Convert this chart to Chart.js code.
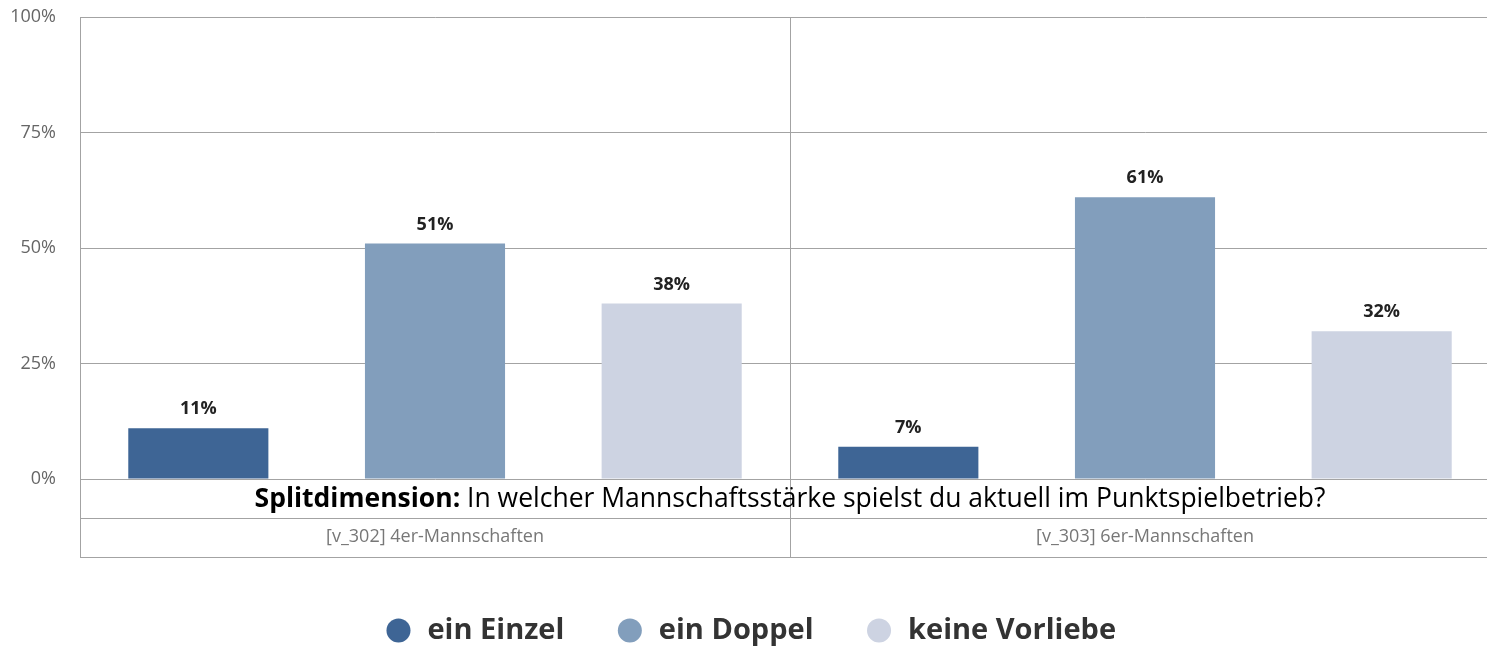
<!DOCTYPE html>
<html>
<head>
<meta charset="utf-8">
<title>Mannschaftsstärke</title>
<script src="https://cdn.jsdelivr.net/npm/chart.js@4.4.0/dist/chart.umd.min.js"></script>
<style>
  html, body { margin: 0; padding: 0; background: #fff; overflow: hidden; }
  #wrap { position: relative; width: 1500px; height: 647px; }
</style>
</head>
<body>
<div id="wrap"><canvas id="chart"></canvas></div>
<script>
// Data
const categories = ['[v_302] 4er-Mannschaften', '[v_303] 6er-Mannschaften'];
const seriesNames = ['ein Einzel', 'ein Doppel', 'keine Vorliebe'];
const einEinzel = [11, 7];
const einDoppel = [51, 61];
const keineVorliebe = [38, 32];
const yTicks = [0, 25, 50, 75, 100];
const splitLabel = 'Splitdimension:';
const splitQuestion = ' In welcher Mannschaftsstärke spielst du aktuell im Punktspielbetrieb?';

const COLORS = ['#3e6595', '#829ebc', '#cdd3e2'];
const GRID = '#a3a3a3';
const FONT = "'Open Sans', 'Noto Sans', sans-serif";

// value labels above each bar
const barLabels = {
  id: 'barLabels',
  afterDatasetsDraw(chart) {
    const ctx = chart.ctx;
    ctx.save();
    ctx.font = 'bold 18px ' + FONT;
    ctx.fillStyle = '#222';
    ctx.textAlign = 'center';
    ctx.textBaseline = 'middle';
    chart.data.datasets.forEach((ds, i) => {
      chart.getDatasetMeta(i).data.forEach((bar, j) => {
        ctx.fillText(ds.data[j] + '%', bar.x, bar.y - 19);
      });
    });
    ctx.restore();
  }
};

// table-like band under the plot: split dimension row + category row
const splitBand = {
  id: 'splitBand',
  afterDraw(chart) {
    const ctx = chart.ctx;
    const area = chart.chartArea;
    const rowH = 39;
    ctx.save();
    ctx.strokeStyle = GRID;
    ctx.lineWidth = 1;
    [1, 2].forEach(k => {
      const y = Math.round(area.bottom + rowH * k) + 0.5;
      ctx.beginPath();
      ctx.moveTo(area.left, y);
      ctx.lineTo(area.right, y);
      ctx.stroke();
    });

    const boldFont = 'bold 26.5px ' + FONT;
    const normFont = '26.5px ' + FONT;
    ctx.font = boldFont;
    const w1 = ctx.measureText(splitLabel).width;
    ctx.font = normFont;
    const w2 = ctx.measureText(splitQuestion).width;
    const cx = chart.scales.x.getPixelForValue(0.5);
    let x = cx - (w1 + w2) / 2;
    const y = area.bottom + rowH / 2 + 1;
    ctx.fillStyle = '#000';
    ctx.textAlign = 'left';
    ctx.textBaseline = 'middle';
    ctx.font = boldFont;
    ctx.fillText(splitLabel, x, y);
    ctx.font = normFont;
    ctx.fillText(splitQuestion, x + w1, y);
    ctx.restore();
  }
};

new Chart(document.getElementById('chart'), {
  type: 'bar',
  data: {
    labels: categories,
    datasets: [
      { label: seriesNames[0], data: einEinzel, backgroundColor: COLORS[0] },
      { label: seriesNames[1], data: einDoppel, backgroundColor: COLORS[1] },
      { label: seriesNames[2], data: keineVorliebe, backgroundColor: COLORS[2] },
    ],
  },
  options: {
    responsive: true,
    maintainAspectRatio: false,
    animation: false,
    layout: { padding: { top: 17, left: 0, right: 0, bottom: 0 } },
    datasets: {
      bar: { categoryPercentage: 1.0, barPercentage: 0.592 },
    },
    plugins: {
      tooltip: { enabled: false },
      legend: {
        position: 'bottom',
        maxHeight: 82,
        labels: {
          usePointStyle: true,
          pointStyle: 'circle',
          boxWidth: 34,
          boxHeight: 17,
          padding: 51,
          color: '#333',
          font: { family: FONT, size: 29, weight: 'bold' },
        },
      },
    },
    scales: {
      x: {
        offset: true,
        grid: {
          offset: true,
          color: GRID,
          lineWidth: 1,
          tickLength: 78,
          drawTicks: true,
        },
        border: { display: false },
        ticks: {
          padding: -31,
          color: '#777',
          font: { family: FONT, size: 18 },
          maxRotation: 0,
        },
        afterFit(s) { s.height = 86; s.paddingLeft = 0; s.paddingRight = 0; },
      },
      y: {
        min: 0,
        max: 100,
        afterBuildTicks(s) { s.ticks = yTicks.map(v => ({ value: v })); },
        grid: { color: GRID, lineWidth: 1, drawTicks: false },
        border: { display: true, color: GRID },
        ticks: {
          padding: 24,
          color: '#666',
          font: { family: FONT, size: 18 },
          callback: v => v + '%',
        },
        afterFit(s) { s.width = 80; s.paddingTop = 0; s.paddingBottom = 0; },
      },
    },
  },
  plugins: [barLabels, splitBand],
});
</script>
</body>
</html>
